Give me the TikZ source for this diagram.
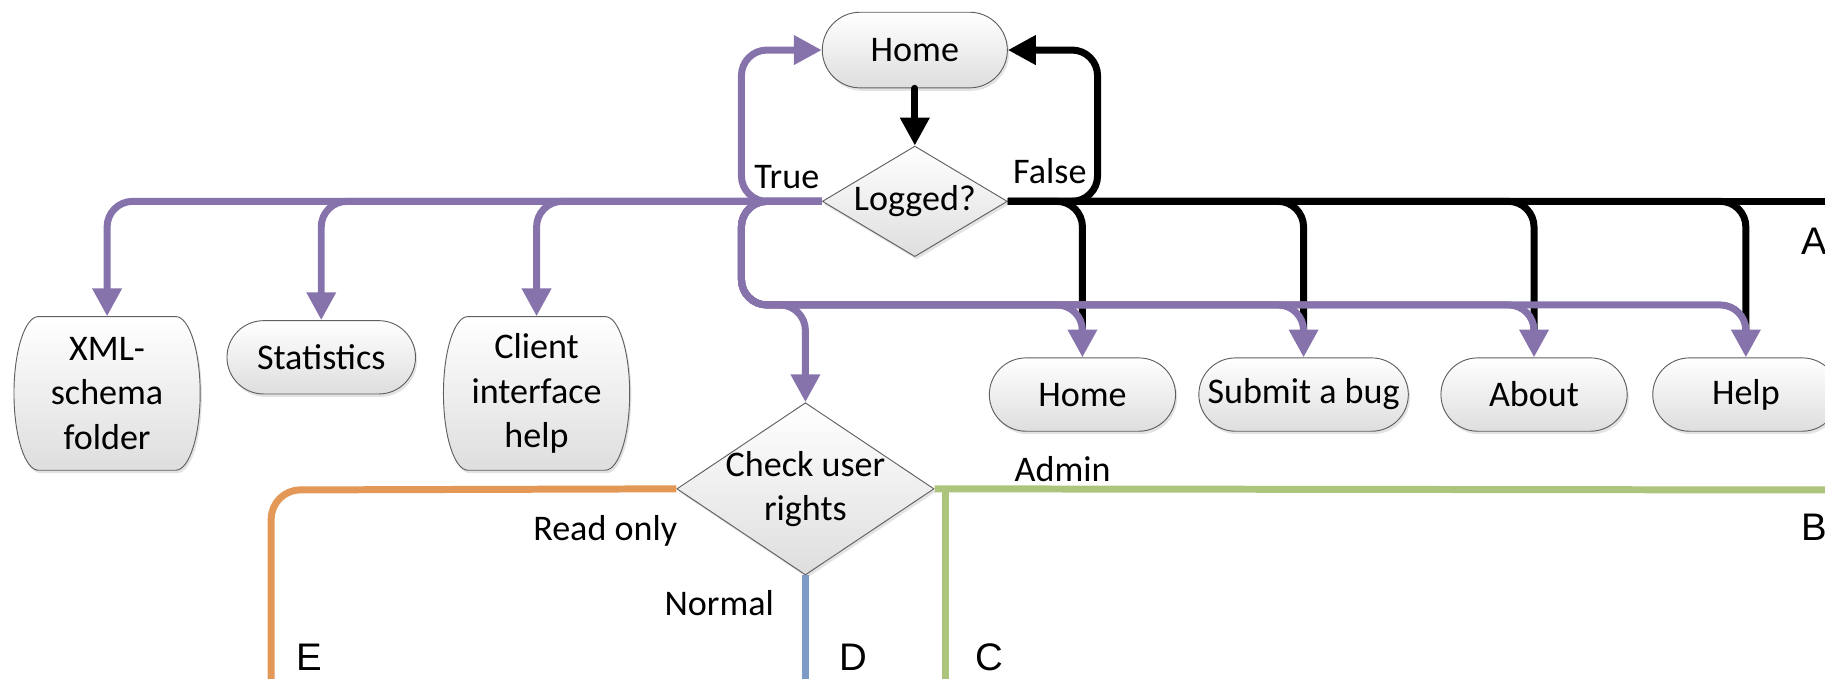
\documentclass[tikz,border=0pt]{standalone}
\usepackage{fontspec}
\setmainfont{Carlito}
\newfontfamily\letterfont{Liberation Sans}
\usetikzlibrary{shapes.misc,shapes.geometric,arrows.meta,shadows}
\definecolor{purp}{RGB}{135,115,172}
\definecolor{orng}{RGB}{227,152,87}
\definecolor{grn}{RGB}{173,196,125}
\definecolor{blu}{RGB}{124,155,199}
\definecolor{boxline}{RGB}{95,95,95}
\begin{document}
\begin{tikzpicture}[x=1pt,y=-1pt,
  every node/.style={font=\fontsize{31}{38}\selectfont},
  surface/.style={draw=boxline, line width=0.8pt, top color=white, bottom color=black!13,
    drop shadow={opacity=0.22,shadow xshift=1.5pt,shadow yshift=-2.5pt}},
  shaded/.style={surface, inner sep=0pt, align=center},
  box/.style={shaded, rounded rectangle},
  tallbox/.style={rectangle, inner sep=0pt, align=center, minimum width=160pt, minimum height=132pt},
  tallbg/.pic={\path[surface] (-59,-66) -- (59,-66)
      .. controls (70.6,-66) and (80,-36.4) .. (80,0)
      .. controls (80,36.4) and (70.6,66) .. (59,66)
      -- (-59,66)
      .. controls (-70.6,66) and (-80,36.4) .. (-80,0)
      .. controls (-80,-36.4) and (-70.6,-66) .. (-59,-66) -- cycle;},
  shortbox/.style={box, minimum height=63pt},
  decision/.style={shaded, diamond},
  lbl/.style={inner sep=0pt},
  letter/.style={inner sep=0pt, font=\letterfont\fontsize{33}{38}\selectfont},
  arr/.style={-{Triangle[length=24pt,width=24pt]}},
  conn/.style={line width=6pt, rounded corners=22pt},
  blk/.style={conn, draw=black},
  pur/.style={conn, draw=purp},
]
\useasboundingbox (0,0) rectangle (1568,583);
\clip (0,0) rectangle (1568,583);

% nodes
\node[shortbox, minimum width=159pt, minimum height=65pt] (home) at (786,43) {Home};
\node[decision, minimum width=159pt, minimum height=95pt, aspect=1.67] (logged) at (786,173) {Logged?};
\pic at (92,338) {tallbg};
\node[tallbox] (xml) at (92,338) {XML-\\schema\\folder};
\node[shortbox, minimum width=162pt] (stats) at (276,307) {Statistics};
\pic at (461,338) {tallbg};
\node[tallbox] (client) at (461,338) {Client\\interface\\help};
\node[shortbox, minimum width=160pt] (home2) at (930,339) {Home};
\node[shortbox, minimum width=180pt] (submit) at (1120,339) {Submit a bug};
\node[shortbox, minimum width=160pt] (about) at (1318,339) {About};
\node[shortbox, minimum width=160pt] (help) at (1500,339) {Help};
\node[decision, minimum width=221pt, minimum height=148pt, aspect=1.49, inner sep=-6pt] (check) at (692,420) {Check user\\rights};

% free ends
\coordinate (aend) at (1580,173);
\coordinate (bend) at (1580,421);
\coordinate (gj) at (812,418);
\coordinate (cend) at (812,600);
\coordinate (dend) at (692,600);
\coordinate (eend) at (233,600);

% black connectors
\draw[blk, arr, rounded corners=0pt, line cap=round] (home.south) -- (logged.north);
\draw[blk, arr] (logged.east) -- (943,173) -- (943,43) -- (home.east);
\draw[blk] (logged.east) -- (aend);
\draw[blk, shorten >=10pt] (logged.east) -| (home2.north);
\draw[blk, shorten >=10pt] (logged.east) -| (submit.north);
\draw[blk, shorten >=10pt] (logged.east) -| (about.north);
\draw[blk, shorten >=10pt] (logged.east) -| (help.north);

% purple connectors
\draw[pur, arr] (logged.west) -- (637,173) -- (637,43) -- (home.west);
\draw[pur, arr] (logged.west) -| (xml.north);
\draw[pur, arr] (logged.west) -| (stats.north);
\draw[pur, arr] (logged.west) -| (client.north);
\draw[pur, arr] (logged.west) -- (637,173) -- (637,262) -| (home2.north);
\draw[pur, arr] (logged.west) -- (637,173) -- (637,262) -| (submit.north);
\draw[pur, arr] (logged.west) -- (637,173) -- (637,262) -| (about.north);
\draw[pur, arr] (logged.west) -- (637,173) -- (637,262) -| (help.north);
\draw[pur, arr] (logged.west) -- (637,173) -- (637,262) -| (check.north);

% user rights branches
\draw[line width=6pt, draw=orng, rounded corners=25pt] (check.west) -- (233,421) -- (eend);
\draw[line width=6pt, draw=blu] (check.south) -- (dend);
\draw[line width=6pt, draw=grn] (check.east) -- (bend);
\draw[line width=6pt, draw=grn] (gj) -- (cend);

% labels
\node[lbl] (ltrue) at (676,152) {True};
\node[lbl] (lfalse) at (902,147) {False};
\node[lbl] (lread) at (520,456) {Read only};
\node[lbl] (lnormal) at (618,518) {Normal};
\node[lbl] (ladmin) at (913,403) {Admin};

\node[letter, anchor=west, fill=white, minimum height=40pt, minimum width=40pt, inner xsep=16pt] (la) at (1532,207) {A};
\node[letter, anchor=west, fill=white, minimum height=56pt, minimum width=40pt, inner xsep=16pt] (lb) at (1532,453) {B};
\node[letter] (lc) at (850,565) {C};
\node[letter] (ld) at (733,565) {D};
\node[letter] (le) at (266,565) {E};
\end{tikzpicture}
\end{document}
